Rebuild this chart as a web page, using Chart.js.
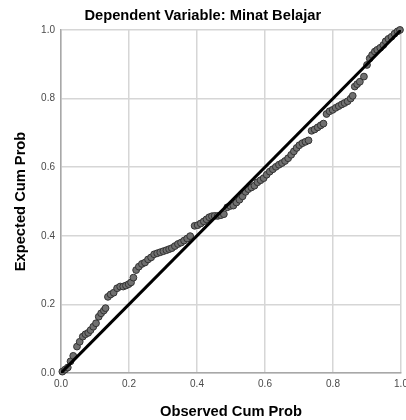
<!DOCTYPE html>
<html>
<head>
<meta charset="utf-8">
<script src="https://cdn.jsdelivr.net/npm/chart.js@4/dist/chart.umd.min.js"></script>
<style>
  html, body { margin: 0; padding: 0; background: #fff; overflow: hidden; }
  #chart { display: block; }
</style>
</head>
<body>
<canvas id="chart" width="406" height="420"></canvas>
<script>
const FONT = "'Liberation Sans', Arial, sans-serif"

// Normal P-P plot values
const observed = [
  0.004,0.012,0.020,0.028,0.036,0.047,0.055,0.064,0.072,0.080,
  0.087,0.095,0.103,0.111,0.118,0.126,0.131,0.138,0.146,0.155,
  0.165,0.174,0.183,0.191,0.199,0.206,0.213,0.221,0.229,0.238,
  0.247,0.256,0.265,0.274,0.283,0.292,0.301,0.310,0.318,0.326,
  0.335,0.344,0.353,0.362,0.371,0.380,0.393,0.402,0.411,0.420,
  0.428,0.436,0.444,0.452,0.461,0.470,0.479,0.489,0.498,0.507,
  0.516,0.525,0.534,0.543,0.551,0.560,0.569,0.578,0.587,0.596,
  0.605,0.614,0.623,0.632,0.641,0.650,0.659,0.668,0.677,0.685,
  0.693,0.701,0.710,0.719,0.728,0.737,0.746,0.755,0.764,0.772,
  0.781,0.790,0.799,0.808,0.817,0.826,0.834,0.843,0.852,0.858,
  0.864,0.871,0.879,0.891,0.900,0.908,0.915,0.923,0.930,0.939,
  0.948,0.955,0.963,0.972,0.981,0.990,0.997
]
const expected = [
  0.004,0.010,0.016,0.034,0.050,0.077,0.091,0.106,0.113,0.117,
  0.125,0.135,0.145,0.164,0.174,0.182,0.189,0.222,0.229,0.234,
  0.247,0.252,0.252,0.255,0.259,0.264,0.278,0.300,0.310,0.318,
  0.322,0.331,0.337,0.346,0.349,0.352,0.355,0.358,0.361,0.364,
  0.370,0.376,0.380,0.386,0.392,0.399,0.429,0.431,0.436,0.442,
  0.448,0.454,0.457,0.458,0.458,0.460,0.463,0.483,0.487,0.488,
  0.497,0.505,0.515,0.528,0.536,0.541,0.546,0.556,0.562,0.568,
  0.578,0.587,0.594,0.601,0.607,0.612,0.618,0.626,0.636,0.646,
  0.656,0.664,0.670,0.674,0.678,0.706,0.710,0.716,0.722,0.727,
  0.755,0.763,0.767,0.773,0.778,0.783,0.787,0.792,0.800,0.808,
  0.835,0.842,0.849,0.864,0.898,0.917,0.927,0.937,0.942,0.948,
  0.956,0.967,0.974,0.980,0.989,0.996,1.000
]
// reference diagonal
const diagX = [0, 1]
const diagY = [0, 1]

const titleText = 'Dependent Variable: Minat Belajar'
const xTitle = 'Observed Cum Prob'
const yTitle = 'Expected Cum Prob'

let points = observed.map((x, i) => ({x: x, y: expected[i]}))
let diag = diagX.map((x, i) => ({x: x, y: diagY[i]}))

let ctx = document.getElementById('chart').getContext('2d')
let chart = new Chart(ctx, {
  type: 'scatter',
  data: {
    datasets: [{
      type: 'line',
      data: diag,
      borderColor: '#000',
      borderWidth: 3,
      pointRadius: 0,
      order: 0
    }, {
      data: points,
      backgroundColor: '#707070',
      borderColor: '#333',
      borderWidth: 1,
      pointRadius: 3.4,
      clip: 5,
      order: 1
    }]
  },
  options: {
    responsive: false,
    animation: false,
    layout: { padding: { left: 0, right: 0.5, top: 0, bottom: 0 } },
    plugins: {
      legend: { display: false },
      tooltip: { enabled: false },
      title: {
        display: true,
        text: titleText,
        color: '#000',
        font: { family: FONT, size: 14.7, weight: 'bold' },
        padding: { top: 7.5, bottom: 4.8 }
      }
    },
    scales: {
      x: {
        type: 'linear',
        min: 0, max: 1,
        ticks: {
          stepSize: 0.2,
          padding: 5,
          color: '#4a4a4a',
          font: { family: FONT, size: 10 },
          callback: v => v.toFixed(1)
        },
        grid: { color: '#d6d6d6', lineWidth: 1.5, drawTicks: false },
        border: { color: '#a8a8a8', width: 1.5 },
        title: {
          display: true,
          text: xTitle,
          color: '#000',
          font: { family: FONT, size: 14.7, weight: 'bold' },
          padding: { top: 0, bottom: -1 }
        },
        afterFit: s => { s.height = 47; s.paddingLeft = 0; s.paddingRight = 0 }
      },
      y: {
        type: 'linear',
        min: 0, max: 1,
        ticks: {
          stepSize: 0.2,
          padding: 6,
          color: '#4a4a4a',
          font: { family: FONT, size: 10 },
          callback: v => v.toFixed(1)
        },
        grid: { color: '#d6d6d6', lineWidth: 1.5, drawTicks: false },
        border: { color: '#a8a8a8', width: 1.5 },
        title: {
          display: true,
          text: yTitle,
          color: '#000',
          font: { family: FONT, size: 14.7, weight: 'bold' },
          padding: { top: 12, bottom: 0 }
        },
        afterFit: s => { s.width = 61; s.paddingTop = 0; s.paddingBottom = 0 }
      }
    }
  }
})
</script>
</body>
</html>
